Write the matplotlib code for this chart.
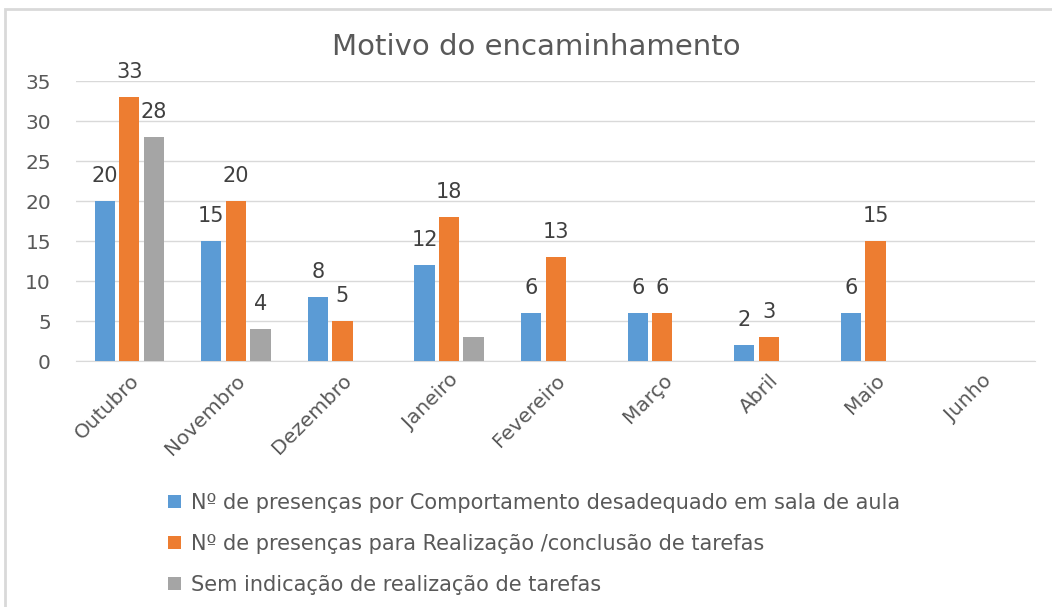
import numpy as np
import matplotlib
matplotlib.use('Agg')
import matplotlib.pyplot as plt
from matplotlib.patches import Rectangle

meses = ['Outubro', 'Novembro', 'Dezembro', 'Janeiro', 'Fevereiro',
         'Março', 'Abril', 'Maio', 'Junho']
comportamento = [20, 15, 8, 12, 6, 6, 2, 6, 0]
tarefas = [33, 20, 5, 18, 13, 6, 3, 15, 0]
sem_indicacao = [28, 4, 0, 3, 0, 0, 0, 0, 0]
# rotulos visiveis no original (o 3 de Janeiro nao aparece)
rot_comportamento = ['20', '15', '8', '12', '6', '6', '2', '6', '']
rot_tarefas = ['33', '20', '5', '18', '13', '6', '3', '15', '']
rot_sem = ['28', '4', '', '', '', '', '', '', '']

series = [
    ('Nº de presenças por Comportamento desadequado em sala de aula', comportamento, rot_comportamento, '#5B9BD5'),
    ('Nº de presenças para Realização /conclusão de tarefas', tarefas, rot_tarefas, '#ED7D31'),
    ('Sem indicação de realização de tarefas', sem_indicacao, rot_sem, '#A5A5A5'),
]

plt.rcParams['font.family'] = ['DejaVu Sans']
txt = '#595959'

fig = plt.figure(figsize=(10.52, 6.07), dpi=100)
fig.patches.append(Rectangle((0.005, -0.01), 1.2, 0.995, transform=fig.transFigure,
                             fill=False, edgecolor='#D9D9D9', linewidth=2))
ax = fig.add_axes([0.0722, 0.405, 0.912, 0.4614])

x = np.arange(len(meses))
w = 0.19
step = 0.23
for i, (nome, vals, rots, cor) in enumerate(series):
    pos = x + (i - 1) * step
    bars = ax.bar(pos, vals, width=w, color=cor, label=nome, zorder=3)
    ax.bar_label(bars, labels=rots, padding=11, fontsize=15, color='#404040')

ax.set_xlim(-0.5, len(meses) - 0.5)
ax.set_ylim(0, 35)
ax.set_yticks(range(0, 36, 5))
ax.grid(axis='y', color='#D9D9D9', linewidth=1, zorder=0)
for s in ['top', 'right', 'left']:
    ax.spines[s].set_visible(False)
ax.spines['bottom'].set_color('#D9D9D9')
ax.tick_params(axis='both', length=0, colors=txt, labelsize=14.5)
ax.tick_params(axis='y', pad=18)
ax.tick_params(axis='x', pad=7)
ax.set_xticks(x)
ax.set_xticklabels(meses, rotation=45, ha='right', rotation_mode='anchor')

fig.text(0.51, 0.922, 'Motivo do encaminhamento', ha='center', va='center',
         fontsize=21, color=txt)

fig.legend(loc='upper left', bbox_to_anchor=(0.15, 0.205), frameon=False,
           fontsize=15, labelcolor=txt, handlelength=0.6, handleheight=0.6,
           handletextpad=0.5, labelspacing=1.0, borderpad=0)

fig.savefig('out.png', dpi=100, facecolor='white')
